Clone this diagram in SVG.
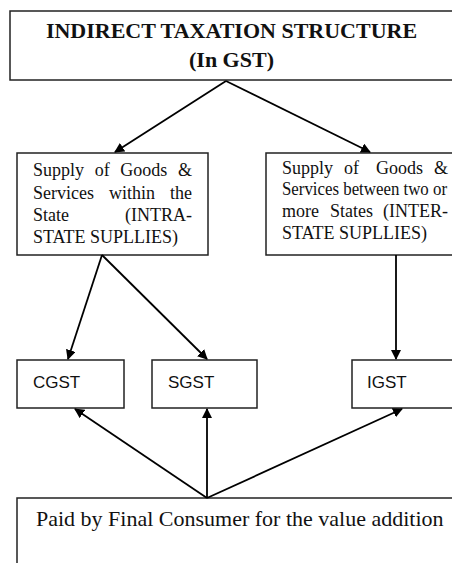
<svg xmlns="http://www.w3.org/2000/svg" width="452" height="563" viewBox="0 0 452 563">
<defs>
<marker id="ah" markerWidth="10" markerHeight="10" refX="9" refY="5" orient="auto" markerUnits="userSpaceOnUse" viewBox="0 0 10 10">
<path d="M0,0 L10,5 L0,10 z" fill="#000"/>
</marker>
<style>
.box{fill:#fff;stroke:#222;stroke-width:1.5}
.serif{font-family:"Liberation Serif","Times New Roman",serif;fill:#111}
.title{font-size:22px;font-weight:bold}
.body{font-size:18px}
.sans{font-family:"Liberation Sans",Arial,sans-serif;font-size:17px;fill:#111}
.conn line{stroke:#000;stroke-width:1.8;fill:none}
</style>
</defs>
<rect width="452" height="563" fill="#fff"/>

<g id="title">
<rect class="box" x="10" y="11" width="450" height="69"/>
<text class="serif title" x="231.5" y="38" text-anchor="middle">INDIRECT TAXATION STRUCTURE</text>
<text class="serif title" x="231.5" y="67" text-anchor="middle">(In GST)</text>
</g>

<g id="intra">
<rect class="box" x="17" y="153" width="191" height="102"/>
<text class="serif body" y="176"><tspan x="33">Supply</tspan><tspan x="94.7">of</tspan><tspan x="120.3">Goods</tspan></text>
<text class="serif body" x="192" y="176" text-anchor="end">&amp;</text>
<text class="serif body" y="199"><tspan x="33">Services</tspan><tspan x="109">within</tspan></text>
<text class="serif body" x="192" y="199" text-anchor="end">the</text>
<text class="serif body" x="33" y="221">State</text>
<text class="serif body" x="192" y="221" text-anchor="end">(INTRA-</text>
<text class="serif body" x="33" y="243">STATE SUPLLIES)</text>
</g>

<g id="inter">
<rect class="box" x="266" y="153" width="200" height="102"/>
<text class="serif body" y="174"><tspan x="282">Supply</tspan><tspan x="344">of</tspan><tspan x="376">Goods</tspan></text>
<text class="serif body" x="448" y="174" text-anchor="end">&amp;</text>
<text class="serif body" x="282" y="195" textLength="165" lengthAdjust="spacingAndGlyphs">Services between two or</text>
<text class="serif body" y="217"><tspan x="282">more</tspan><tspan x="330">States</tspan></text>
<text class="serif body" x="448" y="217" text-anchor="end">(INTER-</text>
<text class="serif body" x="282" y="239">STATE SUPLLIES)</text>
</g>

<g id="cgst">
<rect class="box" x="17" y="360" width="107" height="48"/>
<text class="sans" x="33" y="388">CGST</text>
</g>

<g id="sgst">
<rect class="box" x="152" y="360" width="105" height="48"/>
<text class="sans" x="168" y="388">SGST</text>
</g>

<g id="igst">
<rect class="box" x="352" y="360" width="110" height="48"/>
<text class="sans" x="367" y="388">IGST</text>
</g>

<g id="consumer">
<rect class="box" x="17" y="498" width="450" height="80"/>
<text class="serif" font-size="22" x="36" y="526">Paid by Final Consumer for the value addition</text>
</g>

<g class="conn" id="connectors">
<line x1="226" y1="81" x2="115" y2="152" marker-end="url(#ah)"/>
<line x1="226" y1="81" x2="370" y2="152" marker-end="url(#ah)"/>
<line x1="102" y1="255" x2="68" y2="359" marker-end="url(#ah)"/>
<line x1="102" y1="255" x2="207" y2="359" marker-end="url(#ah)"/>
<line x1="396" y1="255" x2="396" y2="359" marker-end="url(#ah)"/>
<line x1="207" y1="498" x2="75" y2="409" marker-end="url(#ah)"/>
<line x1="207" y1="498" x2="207" y2="409" marker-end="url(#ah)"/>
<line x1="207" y1="498" x2="402" y2="409" marker-end="url(#ah)"/>
</g>
</svg>
